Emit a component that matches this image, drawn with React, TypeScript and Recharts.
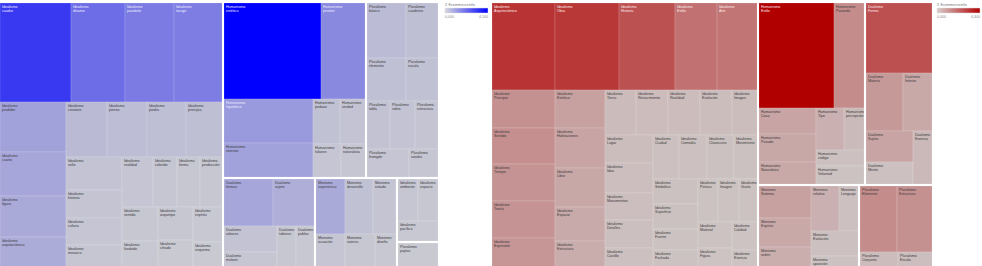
import React from 'react';
import { Treemap } from 'recharts';

// left map (blue)
const leftGroups = ['Idealismo', 'Humanismo', 'Pluralismo', 'Dualismo', 'Monismo', 'Idealismo', 'Pluralismo'];
const leftLeaves = [
  ['cuadro', 'dinamo', 'parabolo', 'tarugo', 'pradobe', 'cuatro', 'figuro', 'arquitectónico', 'creatoro', 'pienso', 'piedra', 'principia', 'sello', 'historia', 'cultura', 'mosaico', 'realidad', 'colorido', 'forma', 'producción', 'sentido', 'fundado', 'arquetipo', 'cifrado', 'espíritu', 'esquema'],
  ['estético', 'pesimo', 'hipotético', 'vinerais', 'pedazo', 'verdad', 'tulanes', 'naturaleza'],
  ['básico', 'cuaderno', 'elemento', 'escala', 'tabla', 'vidrio', 'estructura', 'fromgde', 'sandro'],
  ['formas', 'sujeto', 'arbores', 'mulann', 'tuberes', 'pablos'],
  ['experiencia', 'desarrollo', 'estado', 'ecuación', 'vaterra', 'diseño'],
  ['ambiente', 'espacio', 'pacífico'],
  ['pajitas'],
];
const leftSizes = [
  [7029, 5346, 4851, 4653, 3300, 2904, 2706, 2178, 2200, 2145, 2090, 2090, 1815, 1540, 1485, 1375, 1500, 1200, 1150, 1150, 1188, 1080, 1150, 1050, 1023, 930],
  [9310, 4275, 3916, 3026, 1188, 1144, 918, 918],
  [2200, 1815, 1680, 1386, 1128, 1175, 1128, 1218, 899],
  [2350, 2030, 1380, 1000, 850, 790],
  [1650, 1540, 1320, 1102, 1102, 798],
  [880, 880, 880],
  [1040],
];
const leftShades = [
  [2.95, 1.93, 1.64, 1.6, 0.86, 0.78, 0.7, 0.66, 0.38, 0.33, 0.3, 0.28, 0.2, 0.18, 0.16, 0.14, 0.16, 0.14, 0.12, 0.12, 0.12, 0.1, 0.12, 0.08, 0.1, 0.08],
  [4.1, 1.36, 1.05, 0.88, 0.24, 0.2, 0.16, 0.14],
  [0.36, 0.28, 0.26, 0.24, 0.22, 0.2, 0.18, 0.16, 0.14],
  [0.78, 0.62, 0.2, 0.14, 0.12, 0.1],
  [0.7, 0.24, 0.18, 0.16, 0.12, 0.1],
  [0.14, 0.12, 0.1],
  [0.08],
];

// right map (red)
const rightGroups = ['Idealismo', 'Humanismo', 'Dualismo', 'Monismo', 'Pluralismo'];
const rightLeaves = [
  ['Arquitectónico', 'Obra', 'Historia', 'Estilo', 'Arte', 'Principio', 'Sentido', 'Tiempo', 'Teoría', 'Expresión', 'Estética', 'Habitaciones', 'Libro', 'Espacio', 'Estructura', 'Tierra', 'Renacimiento', 'Realidad', 'Evolución', 'Imagen', 'Lugar', 'Idea', 'Monumentos', 'Detalles', 'Castillo', 'Ciudad', 'Comedia', 'Claroscuro', 'Movimiento', 'Simbólico', 'Superficie', 'Fuente', 'Fachada', 'Pintura', 'Imagen', 'Gusto', 'Material', 'Figura', 'Calidad', 'Esencia'],
  ['Estilo', 'Pasando', 'Casa', 'Pasado', 'Naturaleza', 'Tipo', 'percepción', 'código', 'Voluntad'],
  ['Forma', 'Materia', 'Interior', 'Sujeto', 'Mente', 'Esencia'],
  ['Sistema', 'Espíritu', 'orden', 'relativo', 'Lenguaje', 'Evolución', 'aparición'],
  ['Elemento', 'Estructura', 'Conjunto', 'Escala'],
];
const rightSizes = [
  [5481, 5481, 4785, 3654, 3480, 2394, 2268, 2331, 2331, 2016, 1862, 1960, 1911, 1666, 1421, 1350, 1395, 1395, 1395, 1260, 1316, 1410, 1269, 1316, 1034, 1118, 1204, 1161, 989, 1100, 1100, 924, 924, 840, 882, 798, 858, 792, 702, 648],
  [7875, 3255, 1450, 1566, 1392, 1134, 882, 768, 864],
  [4690, 2166, 1653, 1457, 1081, 1080],
  [1696, 1484, 1272, 1260, 900, 1152, 720],
  [2405, 2275, 703, 665],
];
const rightShades = [
  [3.26, 3.17, 2.6, 1.89, 1.8, 1.19, 1.23, 1.14, 1.14, 1.1, 0.84, 0.75, 0.7, 0.62, 0.57, 0.24, 0.22, 0.22, 0.2, 0.2, 0.2, 0.18, 0.18, 0.16, 0.14, 0.14, 0.13, 0.12, 0.12, 0.12, 0.11, 0.1, 0.1, 0.09, 0.09, 0.08, 0.08, 0.07, 0.07, 0.06],
  [4.4, 1.28, 0.75, 0.7, 0.66, 0.48, 0.26, 0.13, 0.09],
  [2.64, 1.0, 0.66, 0.75, 0.13, 0.3],
  [0.84, 0.66, 0.53, 0.48, 0.13, 0.13, 0.09],
  [1.28, 1.19, 0.22, 0.18],
];

const legendTitle = 'Σ Ecommerceinfo';
const leftLegendTicks = ['0,000', '4,100'];
const rightLegendTicks = ['0,000', '4,400'];

const FONT = '"Liberation Sans", Arial, sans-serif';

const mix = (a: string, b: string, t: number) => {
  const pa = [1, 3, 5].map((i) => parseInt(a.slice(i, i + 2), 16));
  const pb = [1, 3, 5].map((i) => parseInt(b.slice(i, i + 2), 16));
  return `rgb(${pa.map((v, i) => Math.round(v + (pb[i] - v) * t)).join(',')})`;
};

const buildTree = (key: string, groups: string[], leaves: string[][], sizes: number[][], shades: number[][]) =>
  groups.map((g, gi) => ({
    name: g,
    gid: key + gi,
    children: leaves[gi].map((leaf, li) => ({
      name: leaf,
      group: g,
      gid: key + gi,
      size: sizes[gi][li],
      shade: shades[gi][li],
    })),
  }));

const leftData = buildTree('L', leftGroups, leftLeaves, leftSizes, leftShades);
const rightData = buildTree('R', rightGroups, rightLeaves, rightSizes, rightShades);

type Box = { x: number; y: number; width: number; height: number };
const groupBoxes = new Map<string, Box>();

const makeCell = (low: string, high: string, max: number, cut: number, light: string) => (props: any) => {
  const { x, y, width, height, depth, name, group, gid, shade } = props;
  if (depth === 1) {
    groupBoxes.set(gid, { x, y, width, height });
    return <g />;
  }
  if (depth !== 2) return <g />;
  const b = groupBoxes.get(gid);
  let x0 = x;
  let y0 = y;
  let x1 = x + width;
  let y1 = y + height;
  if (b) {
    if (Math.abs(x0 - b.x) < 0.5) x0 += 1;
    if (Math.abs(y0 - b.y) < 0.5) y0 += 1;
    if (Math.abs(x1 - (b.x + b.width)) < 0.5) x1 -= 1;
    if (Math.abs(y1 - (b.y + b.height)) < 0.5) y1 -= 1;
  }
  const w = Math.max(0, x1 - x0);
  const h = Math.max(0, y1 - y0);
  const t = Math.min(1, shade / max);
  const tc = t > cut ? light : '#3a3a3a';
  return (
    <g>
      <rect x={x0} y={y0} width={w} height={h} fill={mix(low, high, t)} stroke="rgba(255,255,255,0.25)" strokeWidth={0.6} />
      <svg x={x0} y={y0} width={w} height={h} overflow="hidden">
        <text x={2} y={4.6} fontSize={3.6} fill={tc} fontFamily={FONT}>{group}</text>
        <text x={2} y={8.6} fontSize={3.6} fill={tc} fontFamily={FONT}>{name}</text>
      </svg>
    </g>
  );
};

const blueCell = makeCell('#cdcdd1', '#0000ff', 4.1, 0.22, '#eeeeff');
const redCell = makeCell('#cdc6c6', '#b00000', 4.4, 0.35, '#ffeeee');

const Legend = ({ x, id, low, high, ticks }: { x: number; id: string; low: string; high: string; ticks: string[] }) => (
  <g>
    <defs>
      <linearGradient id={id} x1="0" y1="0" x2="1" y2="0">
        <stop offset="0%" stopColor={low} />
        <stop offset="100%" stopColor={high} />
      </linearGradient>
    </defs>
    <text x={x} y={5.5} fontSize={3.8} fill="#777" fontFamily={FONT}>{legendTitle}</text>
    <rect x={x} y={8} width={43} height={5} fill={`url(#${id})`} stroke="#ddd" strokeWidth={0.5} />
    <text x={x} y={17.5} fontSize={3.6} fill="#888" fontFamily={FONT}>{ticks[0]}</text>
    <text x={x + 43} y={17.5} fontSize={3.6} fill="#888" fontFamily={FONT} textAnchor="end">{ticks[1]}</text>
  </g>
);

export default function App() {
  return (
    <div style={{ position: 'fixed', left: 0, top: 0, width: 982, height: 266, overflow: 'hidden', background: '#fff' }}>
      <div style={{ position: 'absolute', left: -1, top: 2 }}>
        <Treemap
          width={440}
          height={269}
          data={leftData}
          dataKey="size"
          nameKey="name"
          type="flat"
          isAnimationActive={false}
          content={blueCell}
        />
      </div>
      <div style={{ position: 'absolute', left: 491, top: 2 }}>
        <Treemap
          width={442}
          height={269}
          data={rightData}
          dataKey="size"
          nameKey="name"
          type="flat"
          isAnimationActive={false}
          content={redCell}
        />
      </div>
      <svg width={982} height={266} style={{ position: 'absolute', left: 0, top: 0, pointerEvents: 'none' }}>
        <Legend x={445} id="gBlue" low="#d6d6de" high="#0000ff" ticks={leftLegendTicks} />
        <Legend x={937} id="gRed" low="#d8cccc" high="#b00000" ticks={rightLegendTicks} />
      </svg>
    </div>
  );
}
